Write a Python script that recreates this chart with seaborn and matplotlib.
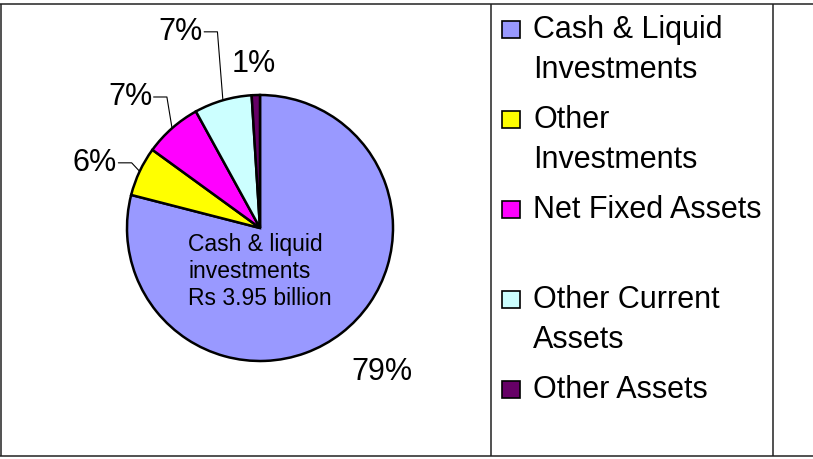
import numpy as np
import matplotlib
matplotlib.use("Agg")
import matplotlib.pyplot as plt
from matplotlib.patches import Rectangle
import seaborn as sns

# Asset composition (% of total assets)
categories = ["Cash & Liquid Investments", "Other Investments", "Net Fixed Assets",
              "Other Current Assets", "Other Assets"]
legend_labels = ["Cash & Liquid\nInvestments", "Other\nInvestments", "Net Fixed Assets",
                 "Other Current\nAssets", "Other Assets"]
shares = [79, 6, 7, 7, 1]
colors = ["#9999FF", "#FFFF00", "#FF00FF", "#CCFFFF", "#660066"]
callout = "Cash & liquid\ninvestments\nRs 3.95 billion"

sns.set_theme(style="white")
plt.rcParams["font.family"] = ["Liberation Sans", "DejaVu Sans"]
palette = sns.color_palette(colors)

W, H = 813, 459
fig = plt.figure(figsize=(W / 100, H / 100), dpi=100)
fig.patch.set_facecolor("white")

# Background axes in pixel coordinates for the frame and legend
bg = fig.add_axes([0, 0, 1, 1])
bg.set_xlim(0, W)
bg.set_ylim(H, 0)
bg.axis("off")
frame_kw = dict(color="#222222", lw=1.1, solid_capstyle="butt")
bg.plot([0, W], [4, 4], **frame_kw)
bg.plot([0, W], [456, 456], **frame_kw)
bg.plot([0.8, 0.8], [4, 456], **frame_kw)
bg.plot([491, 491], [4, 456], **frame_kw)
bg.plot([772.5, 772.5], [4, 456], **frame_kw)

# Legend: one square per category, text beside it
fs = 22
for i, (lab, col) in enumerate(zip(legend_labels, palette)):
    base = 38 + 90 * i
    bg.add_patch(Rectangle((502, base - 17), 18, 17, facecolor=col,
                           edgecolor="black", lw=1.2))
    for j, line in enumerate(lab.split("\n")):
        bg.text(533, base + 40 * j, line, fontsize=fs, ha="left",
                va="baseline", color="black")

# Pie chart
cx, cy, R = 260, 228, 133
ax = fig.add_axes([(cx - R) / W, (H - cy - R) / H, 2 * R / W, 2 * R / H])
wedges, _ = ax.pie(shares, colors=palette, startangle=90, counterclock=False,
                   radius=1.0,
                   wedgeprops=dict(edgecolor="black", linewidth=1.8))
ax.set_xlim(-1, 1)
ax.set_ylim(-1, 1)
ax.set_aspect("equal")
ax.axis("off")

# Percentage labels; some with leader lines back to the wedge edge
label_pos = [(0.92, -1.08, "center", False),
             (-1.075, 0.49, "right", True),
             (-0.81, 0.985, "right", True),
             (-0.43, 1.475, "right", True),
             (-0.05, 1.23, "center", False)]
for w, v, (lx, ly, ha, lead) in zip(wedges, shares, label_pos):
    ax.text(lx, ly, f"{v}%", fontsize=fs, ha=ha, va="center",
            color="black", clip_on=False)
    if lead:
        mid = np.deg2rad((w.theta1 + w.theta2) / 2)
        ex, ey = np.cos(mid), np.sin(mid)
        x0 = lx + 0.01
        x1 = x0 + 0.1
        ax.plot([x0, x1, ex], [ly, ly, ey], color="black", lw=0.8,
                clip_on=False)

ax.text(-0.54, -0.33, callout, fontsize=16.5, ha="left", va="center",
        color="black", linespacing=1.22)

fig.savefig("out.png", dpi=100, facecolor="white")
